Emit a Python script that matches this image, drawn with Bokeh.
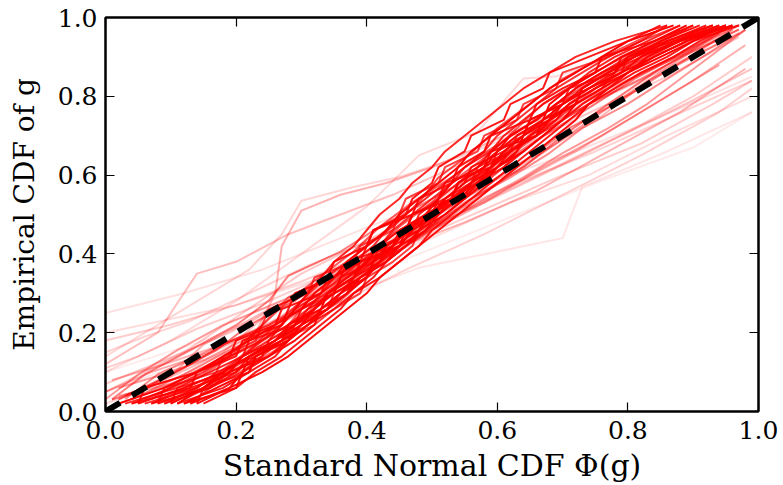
from bokeh.plotting import figure
from bokeh.models import Range1d, FixedTicker, PrintfTickFormatter, LinearAxis, ColumnDataSource
from bokeh.embed import file_html
from bokeh.resources import INLINE

# ---------------- data ----------------
# empirical CDF levels shared by curves of the same sample size
levels_25 = [0.02,0.06,0.10,0.14,0.18,0.22,0.26,0.30,0.34,0.38,0.42,0.46,0.50,
             0.54,0.58,0.62,0.66,0.70,0.74,0.78,0.82,0.86,0.90,0.94,0.98]
levels_16 = [0.031,0.094,0.156,0.219,0.281,0.344,0.406,0.469,0.531,0.594,0.656,
             0.719,0.781,0.844,0.906,0.969]

# Phi(g) positions of the large-sample curves (paired with levels_25)
strong_x = [
    [0.05,0.12,0.18,0.22,0.26,0.28,0.32,0.34,0.37,0.40,0.42,0.45,0.49,0.51,0.53,0.57,0.60,0.62,0.66,0.69,0.72,0.76,0.81,0.85,0.91],
    [0.09,0.16,0.19,0.24,0.25,0.29,0.31,0.35,0.36,0.41,0.44,0.46,0.47,0.52,0.55,0.56,0.61,0.64,0.65,0.70,0.74,0.78,0.80,0.87,0.94],
    [0.12,0.17,0.22,0.23,0.28,0.31,0.34,0.37,0.40,0.41,0.43,0.47,0.50,0.53,0.54,0.58,0.60,0.63,0.67,0.68,0.71,0.75,0.79,0.84,0.89],
    [0.03,0.11,0.16,0.21,0.25,0.27,0.29,0.33,0.35,0.38,0.41,0.43,0.46,0.49,0.52,0.55,0.59,0.61,0.64,0.67,0.71,0.74,0.78,0.83,0.88],
    [0.14,0.19,0.21,0.25,0.29,0.32,0.33,0.36,0.39,0.43,0.45,0.47,0.51,0.54,0.57,0.59,0.62,0.66,0.69,0.71,0.75,0.80,0.83,0.88,0.95],
    [0.07,0.13,0.20,0.23,0.27,0.30,0.34,0.36,0.38,0.40,0.44,0.48,0.50,0.52,0.56,0.58,0.62,0.65,0.68,0.72,0.73,0.77,0.82,0.86,0.93],
    [0.10,0.15,0.18,0.22,0.26,0.30,0.32,0.35,0.39,0.42,0.44,0.46,0.49,0.53,0.56,0.60,0.63,0.64,0.67,0.70,0.74,0.79,0.84,0.89,0.96],
    [0.06,0.14,0.17,0.23,0.27,0.29,0.33,0.37,0.38,0.41,0.45,0.47,0.48,0.51,0.54,0.57,0.59,0.62,0.66,0.69,0.72,0.76,0.80,0.85,0.90],
    [0.11,0.18,0.22,0.26,0.28,0.31,0.35,0.38,0.41,0.43,0.46,0.49,0.52,0.55,0.57,0.61,0.64,0.67,0.70,0.73,0.77,0.81,0.86,0.90,0.97],
    [0.04,0.10,0.15,0.19,0.24,0.28,0.31,0.33,0.36,0.39,0.42,0.44,0.47,0.50,0.53,0.55,0.58,0.60,0.63,0.66,0.69,0.73,0.77,0.82,0.86],
    [0.13,0.16,0.21,0.24,0.27,0.32,0.35,0.39,0.40,0.44,0.47,0.48,0.51,0.54,0.58,0.61,0.63,0.65,0.69,0.72,0.76,0.78,0.83,0.87,0.93],
    [0.08,0.15,0.19,0.21,0.26,0.29,0.32,0.34,0.38,0.42,0.43,0.46,0.50,0.52,0.55,0.59,0.61,0.64,0.68,0.70,0.73,0.77,0.81,0.86,0.92],
    [0.15,0.20,0.23,0.27,0.30,0.33,0.36,0.38,0.42,0.45,0.48,0.50,0.53,0.56,0.59,0.62,0.65,0.68,0.71,0.74,0.78,0.82,0.87,0.91,0.96],
    [0.02,0.09,0.14,0.18,0.22,0.26,0.30,0.32,0.35,0.37,0.40,0.43,0.45,0.48,0.51,0.54,0.56,0.59,0.62,0.65,0.68,0.72,0.76,0.80,0.87],
    [0.09,0.14,0.18,0.21,0.24,0.27,0.29,0.31,0.33,0.35,0.38,0.40,0.42,0.45,0.47,0.50,0.52,0.55,0.58,0.61,0.64,0.68,0.72,0.78,0.86],
    [0.13,0.19,0.24,0.28,0.31,0.34,0.37,0.40,0.42,0.45,0.48,0.51,0.54,0.57,0.60,0.63,0.66,0.69,0.72,0.74,0.77,0.80,0.84,0.89,0.95],
    [0.07,0.16,0.20,0.22,0.27,0.31,0.33,0.36,0.40,0.42,0.45,0.49,0.51,0.53,0.57,0.60,0.62,0.66,0.68,0.71,0.75,0.79,0.82,0.88,0.94],
    [0.11,0.15,0.19,0.25,0.28,0.30,0.34,0.37,0.39,0.43,0.46,0.48,0.52,0.55,0.58,0.60,0.64,0.67,0.70,0.72,0.76,0.80,0.85,0.90,0.95],
    [0.10,0.11,0.19,0.21,0.22,0.29,0.30,0.35,0.36,0.37,0.44,0.45,0.50,0.51,0.52,0.59,0.60,0.64,0.65,0.70,0.71,0.78,0.79,0.86,0.93],
    [0.04,0.13,0.14,0.20,0.21,0.27,0.28,0.29,0.35,0.39,0.40,0.41,0.47,0.48,0.53,0.54,0.58,0.59,0.65,0.66,0.70,0.75,0.76,0.84,0.90],
    [0.14,0.15,0.22,0.23,0.28,0.29,0.34,0.35,0.40,0.41,0.42,0.48,0.49,0.55,0.56,0.57,0.62,0.63,0.68,0.69,0.74,0.79,0.80,0.87,0.95],
    [0.08,0.09,0.17,0.18,0.23,0.24,0.25,0.31,0.32,0.38,0.39,0.44,0.45,0.46,0.51,0.52,0.57,0.58,0.63,0.64,0.69,0.70,0.77,0.82,0.88],
    [0.12,0.20,0.21,0.22,0.27,0.28,0.33,0.34,0.38,0.39,0.45,0.46,0.47,0.53,0.54,0.58,0.59,0.66,0.67,0.72,0.73,0.77,0.81,0.88,0.96],
    [0.05,0.06,0.14,0.19,0.20,0.26,0.27,0.33,0.34,0.35,0.40,0.41,0.46,0.47,0.50,0.51,0.55,0.56,0.61,0.62,0.67,0.68,0.74,0.80,0.85],
]

# Phi(g) positions of the mid-sample curves (paired with levels_16)
medium_x = [
    [0.02,0.10,0.17,0.22,0.29,0.34,0.40,0.46,0.52,0.58,0.63,0.69,0.75,0.81,0.88,0.95],
    [0.06,0.15,0.21,0.28,0.31,0.37,0.43,0.47,0.53,0.57,0.62,0.66,0.72,0.77,0.84,0.91],
    [0.01,0.06,0.13,0.20,0.25,0.28,0.36,0.42,0.49,0.56,0.61,0.68,0.74,0.82,0.89,0.97],
    [0.10,0.18,0.24,0.29,0.33,0.38,0.41,0.45,0.50,0.54,0.59,0.63,0.67,0.73,0.80,0.88],
    [0.03,0.08,0.16,0.25,0.32,0.39,0.45,0.50,0.55,0.62,0.68,0.73,0.80,0.86,0.92,0.98],
    [0.08,0.17,0.22,0.26,0.30,0.34,0.39,0.44,0.48,0.51,0.56,0.60,0.65,0.70,0.77,0.85],
    [0.00,0.05,0.11,0.18,0.27,0.35,0.43,0.51,0.57,0.64,0.70,0.77,0.83,0.88,0.93,0.98],
    [0.12,0.20,0.26,0.30,0.36,0.40,0.44,0.49,0.52,0.58,0.61,0.67,0.71,0.76,0.83,0.92],
    [0.04,0.12,0.19,0.27,0.30,0.36,0.44,0.48,0.54,0.60,0.66,0.71,0.78,0.84,0.90,0.96],
    [0.07,0.13,0.20,0.24,0.28,0.33,0.38,0.42,0.47,0.53,0.58,0.64,0.69,0.75,0.81,0.89],
]

# other moderately deviating curves: (Phi(g), empirical CDF)
other_curves = [
    ([0.02,0.07,0.13,0.19,0.25,0.31,0.37,0.43,0.49,0.55,0.61,0.67,0.73,0.79,0.85,0.91,0.97],
     [0.02,0.05,0.09,0.14,0.20,0.27,0.34,0.42,0.49,0.57,0.64,0.71,0.78,0.85,0.91,0.95,0.98]),
    ([0.03,0.08,0.14,0.20,0.24,0.28,0.33,0.38,0.44,0.50,0.56,0.62,0.68,0.74,0.80,0.87,0.94],
     [0.04,0.07,0.10,0.15,0.22,0.29,0.33,0.37,0.43,0.50,0.58,0.66,0.72,0.78,0.84,0.90,0.96]),
    ([0.02,0.08,0.15,0.21,0.28,0.34,0.41,0.48,0.55,0.62,0.69,0.76,0.83,0.90,0.97],
     [0.06,0.09,0.13,0.18,0.24,0.30,0.37,0.44,0.52,0.60,0.68,0.76,0.84,0.90,0.96]),
    ([0.01,0.06,0.12,0.18,0.25,0.32,0.38,0.45,0.51,0.57,0.64,0.70,0.77,0.84,0.91,0.97],
     [0.03,0.06,0.11,0.17,0.22,0.28,0.35,0.41,0.48,0.55,0.62,0.70,0.78,0.86,0.93,0.98]),
]

light_curves = [
    ([0.01,0.09,0.18,0.27,0.36,0.45,0.54,0.63,0.72,0.81,0.90,0.98],
     [0.08,0.12,0.17,0.24,0.33,0.42,0.50,0.58,0.66,0.75,0.84,0.93]),
    ([0.00,0.08,0.14,0.20,0.28,0.36,0.44,0.52,0.60,0.69,0.78,0.87,0.96],
     [0.12,0.20,0.35,0.38,0.45,0.50,0.55,0.61,0.67,0.74,0.81,0.88,0.95]),
    ([0.00,0.07,0.16,0.25,0.33,0.42,0.50,0.58,0.67,0.76,0.85,0.94],
     [0.05,0.10,0.15,0.22,0.31,0.38,0.46,0.53,0.62,0.70,0.79,0.88]),
    ([0.02,0.10,0.17,0.23,0.26,0.27,0.30,0.36,0.43,0.50,0.57,0.65,0.73,0.81,0.89,0.97],
     [0.04,0.07,0.12,0.20,0.30,0.42,0.51,0.55,0.58,0.62,0.67,0.73,0.79,0.85,0.91,0.97]),
    ([0.00,0.10,0.20,0.30,0.40,0.50,0.60,0.70,0.80,0.90,0.99],
     [0.18,0.22,0.27,0.33,0.40,0.47,0.55,0.63,0.71,0.80,0.90]),
    ([0.00,0.12,0.21,0.30,0.42,0.52,0.61,0.73,0.86,0.97],
     [0.05,0.15,0.25,0.35,0.45,0.55,0.65,0.75,0.85,0.95]),
    ([0.05,0.18,0.25,0.37,0.45,0.56,0.66,0.76,0.84,0.93],
     [0.05,0.15,0.25,0.35,0.45,0.55,0.65,0.75,0.85,0.95]),
    ([0.00,0.06,0.13,0.22,0.31,0.40,0.52,0.63,0.75,0.87,0.99],
     [0.15,0.19,0.23,0.30,0.37,0.43,0.50,0.58,0.66,0.75,0.84]),
    ([0.00,0.09,0.19,0.29,0.38,0.47,0.58,0.68,0.79,0.90,0.99],
     [0.07,0.13,0.20,0.29,0.37,0.45,0.53,0.61,0.70,0.79,0.87]),
    ([0.02,0.10,0.15,0.24,0.34,0.44,0.55,0.66,0.77,0.88,0.98],
     [0.03,0.09,0.17,0.25,0.33,0.41,0.48,0.56,0.66,0.76,0.87]),
    ([0.00,0.05,0.14,0.25,0.36,0.48,0.59,0.70,0.82,0.93,0.99],
     [0.11,0.14,0.21,0.28,0.36,0.44,0.52,0.60,0.68,0.78,0.84]),
]

faint_curves = [
    ([0.00,0.12,0.24,0.36,0.48,0.60,0.72,0.84,0.99],
     [0.25,0.30,0.36,0.44,0.52,0.59,0.66,0.74,0.85]),
    ([0.00,0.15,0.30,0.45,0.60,0.75,0.90,0.99],
     [0.10,0.18,0.28,0.38,0.48,0.58,0.67,0.76]),
    ([0.00,0.15,0.30,0.48,0.70,0.73,0.86,0.99],
     [0.05,0.14,0.25,0.365,0.44,0.57,0.66,0.76]),
    ([0.00,0.20,0.35,0.50,0.62,0.74,0.86,0.99],
     [0.20,0.27,0.35,0.44,0.53,0.60,0.70,0.80]),
    ([0.00,0.10,0.22,0.34,0.46,0.58,0.70,0.82,0.94,0.99],
     [0.02,0.08,0.16,0.26,0.36,0.45,0.55,0.65,0.76,0.82]),
    ([0.00,0.10,0.20,0.30,0.40,0.48,0.57,0.64,0.69,0.76,0.84,0.92,0.98],
     [0.10,0.18,0.28,0.40,0.52,0.65,0.71,0.845,0.85,0.89,0.93,0.96,0.985]),
    ([0.00,0.08,0.16,0.22,0.27,0.30,0.38,0.45,0.55,0.65,0.75,0.85,0.95],
     [0.14,0.22,0.30,0.36,0.45,0.535,0.57,0.595,0.65,0.72,0.80,0.88,0.95]),
]

diag_x = [0.0, 1.0]
diag_y = [0.0, 1.0]

x_ticks = [0.0, 0.2, 0.4, 0.6, 0.8, 1.0]
y_ticks = [0.0, 0.2, 0.4, 0.6, 0.8, 1.0]
x_label = "Standard Normal CDF \u03a6(g)"
y_label = "Empirical CDF of g"

# ---------------- figure ----------------
FONT = "DejaVu Serif"
p = figure(width=783, height=485, output_backend="svg", toolbar_location=None,
           x_range=Range1d(0, 1), y_range=Range1d(0, 1),
           min_border_left=105, min_border_right=25, min_border_top=17, min_border_bottom=74)
p.background_fill_color = "white"
p.border_fill_color = "white"
p.outline_line_color = "black"
p.outline_line_width = 2
p.xgrid.visible = False
p.ygrid.visible = False

RED = "#ff0000"

def add_group(xs, ys, alphas, width=2):
    al = [alphas[i % len(alphas)] for i in range(len(xs))]
    src = ColumnDataSource(dict(xs=xs, ys=ys, a=al))
    p.multi_line("xs", "ys", source=src, line_color=RED, line_alpha="a", line_width=width)

add_group([c[0] for c in faint_curves], [c[1] for c in faint_curves],
          [0.12, 0.08, 0.1, 0.14, 0.18, 0.15, 0.16])
add_group([c[0] for c in light_curves], [c[1] for c in light_curves],
          [0.3, 0.25, 0.35, 0.3, 0.2, 0.22, 0.28, 0.18, 0.24, 0.3, 0.2])
add_group([c[0] for c in other_curves], [c[1] for c in other_curves],
          [0.45, 0.5, 0.4, 0.55])
add_group(medium_x, [levels_16] * len(medium_x),
          [0.55, 0.6, 0.5, 0.65, 0.45, 0.7, 0.4, 0.6, 0.5, 0.65])
add_group(strong_x, [levels_25] * len(strong_x),
          [0.95, 0.9, 1.0, 0.85, 0.95, 0.9, 1.0, 0.85, 0.9, 0.8, 0.75])

p.line(diag_x, diag_y, line_color="black", line_width=6, line_dash="17 14")

def style_axis(ax, ticks, labels=True):
    ax.ticker = FixedTicker(ticks=ticks)
    ax.formatter = PrintfTickFormatter(format="%.1f")
    ax.major_tick_in = 9
    ax.major_tick_out = 0
    ax.minor_tick_line_color = None
    ax.major_tick_line_color = "black"
    ax.major_tick_line_width = 1.2
    ax.axis_line_color = "black"
    ax.axis_line_width = 2
    ax.major_label_text_font = FONT
    ax.major_label_text_font_size = "25px"
    ax.major_label_text_color = "black"
    ax.axis_label_text_font = FONT
    ax.axis_label_text_font_style = "normal"
    ax.axis_label_text_color = "black"
    if not labels:
        ax.major_label_text_font_size = "0px"
        ax.major_label_text_alpha = 0
        ax.major_label_standoff = 0

style_axis(p.xaxis[0], x_ticks)
style_axis(p.yaxis[0], y_ticks)
p.xaxis[0].axis_label = x_label
p.yaxis[0].axis_label = y_label
p.xaxis[0].axis_label_text_font_size = "30px"
p.yaxis[0].axis_label_text_font_size = "28px"
p.xaxis[0].major_label_standoff = 9
p.yaxis[0].major_label_standoff = 8
p.xaxis[0].axis_label_standoff = 6
p.yaxis[0].axis_label_standoff = 14

top_ax = LinearAxis()
right_ax = LinearAxis()
style_axis(top_ax, x_ticks, labels=False)
style_axis(right_ax, y_ticks, labels=False)
p.add_layout(top_ax, "above")
p.add_layout(right_ax, "right")

open("out.html", "w").write(file_html(p, INLINE))
